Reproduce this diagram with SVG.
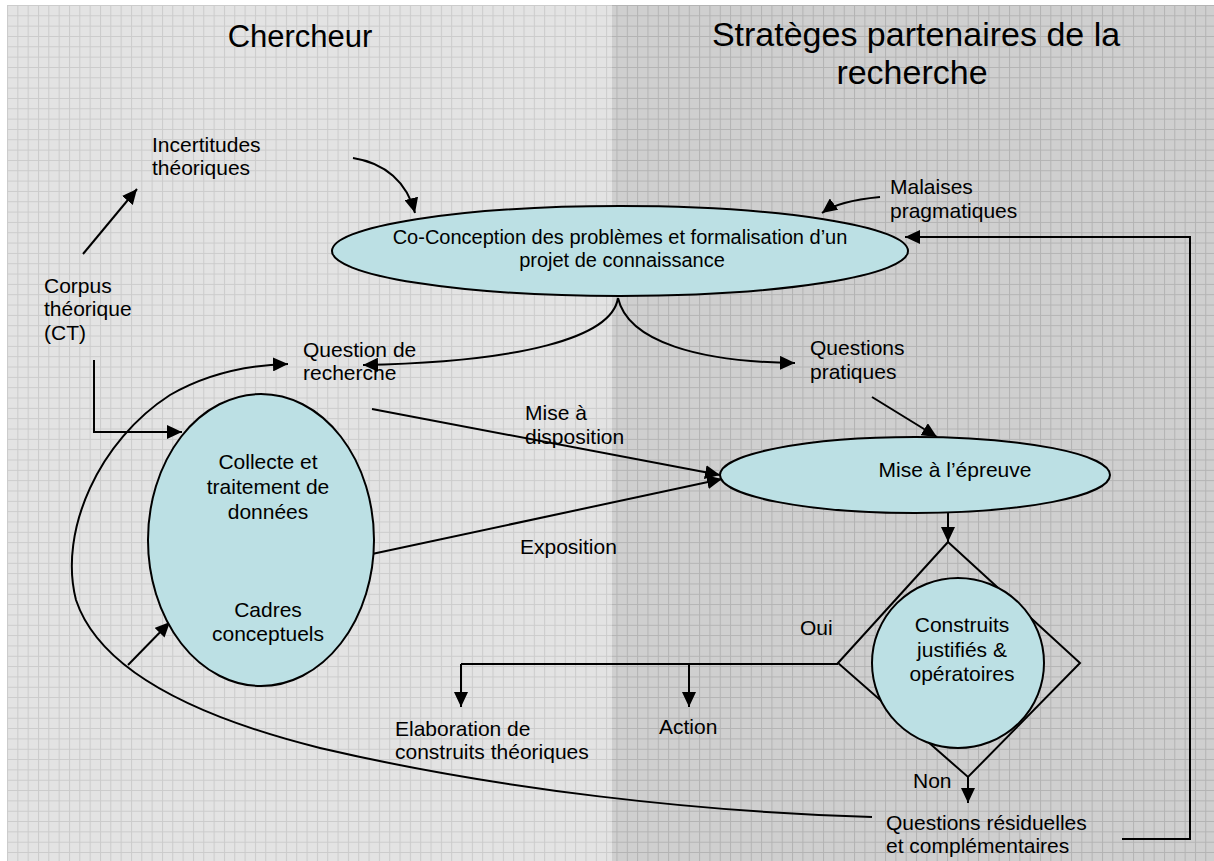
<svg xmlns="http://www.w3.org/2000/svg" width="1214" height="861" viewBox="0 0 1214 861">
<defs>
<pattern id="gridL" x="7" y="5" width="10.33" height="10.33" patternUnits="userSpaceOnUse">
<rect width="10.33" height="10.33" fill="#e3e3e3"/>
<path d="M0,0.5 H10.33 M0.5,0 V10.33" stroke="#cbcbcb" stroke-width="1" fill="none"/>
</pattern>
<pattern id="gridR" x="7" y="5" width="10.33" height="10.33" patternUnits="userSpaceOnUse">
<rect width="10.33" height="10.33" fill="#cfcfcf"/>
<path d="M0,0.5 H10.33 M0.5,0 V10.33" stroke="#b3b3b3" stroke-width="1" fill="none"/>
</pattern>
<marker id="ah" markerUnits="userSpaceOnUse" markerWidth="16" markerHeight="14" refX="15" refY="7" orient="auto">
<path d="M0,0 L15,7 L0,14 z" fill="#000"/>
</marker>
<style>
text{font-family:"Liberation Sans",Arial,sans-serif;fill:#000;font-size:21px}
.title{font-size:31px}
.titleR{font-size:34px}
.mid{text-anchor:middle}
.small{font-size:20px}
.node{fill:#bce0e4;stroke:#000;stroke-width:2}
.ln{fill:none;stroke:#000;stroke-width:2}
.arr{fill:none;stroke:#000;stroke-width:2;marker-end:url(#ah)}
</style>
</defs>
<rect x="0" y="0" width="1214" height="861" fill="#fff"/>
<rect x="7" y="5" width="605" height="856" fill="url(#gridL)"/>
<rect x="612" y="5" width="602" height="856" fill="url(#gridR)"/>

<g id="titles">
<text class="title mid" x="300" y="47">Chercheur</text>
<text class="titleR mid" x="916" y="46">Stratèges partenaires de la</text>
<text class="titleR mid" x="912" y="84">recherche</text>
</g>

<g id="connectors">
<path class="arr" d="M83,254 L137,189"/>
<path class="arr" d="M353,158 C385,163 407,182 415,213"/>
<path class="arr" d="M880,197 Q838,201 822,213"/>
<path class="arr" d="M94,360 V432 H182"/>
<path class="arr" d="M618,298 C612,338 520,362 363,365"/>
<path class="arr" d="M618,298 C628,342 700,362 795,363"/>
<path class="arr" d="M872,397 L937,437"/>
<path class="arr" d="M372,409 L720,475"/>
<path class="arr" d="M372,554 L722,479"/>
<path class="arr" d="M268,533 V578"/>
<path class="arr" d="M128,665 L170,622"/>
<path class="arr" d="M948,512 V542"/>
<path class="ln" d="M838,664 H461"/>
<path class="arr" d="M461,664 V707"/>
<path class="arr" d="M689,664 V707"/>
<path class="arr" d="M968,777 V803"/>
<path class="arr" d="M1122,839 H1190 V237 H905"/>
<path class="arr" d="M872,817 C700,812 500,790 320,748 C200,718 100,672 76,600 C58,530 100,440 170,395 C210,372 250,365 288,364"/>
</g>

<g id="co-conception">
<ellipse class="node" cx="620" cy="251" rx="288" ry="45"/>
<text class="mid small" x="620" y="244">Co-Conception des problèmes et formalisation d’un</text>
<text class="mid small" x="622" y="267">projet de connaissance</text>
</g>

<g id="collecte">
<ellipse class="node" cx="261" cy="540" rx="113" ry="146"/>
<text class="mid" x="268" y="469">Collecte et</text>
<text class="mid" x="268" y="494">traitement de</text>
<text class="mid" x="268" y="519">données</text>
<text class="mid" x="268" y="617">Cadres</text>
<text class="mid" x="268" y="641">conceptuels</text>
</g>

<g id="mise-epreuve">
<ellipse class="node" cx="915" cy="475" rx="195" ry="38"/>
<text class="mid" x="955" y="477">Mise à l’épreuve</text>
</g>

<g id="decision">
<path class="ln" d="M948,542 L1080,663 L968,777 L838,663 Z"/>
<ellipse class="node" cx="958" cy="663" rx="86" ry="85"/>
<text class="mid" x="962" y="632">Construits</text>
<text class="mid" x="962" y="657">justifiés &amp;</text>
<text class="mid" x="962" y="681">opératoires</text>
</g>

<g id="labels">
<text x="152" y="152">Incertitudes</text>
<text x="152" y="175">théoriques</text>
<text x="890" y="194">Malaises</text>
<text x="890" y="218">pragmatiques</text>
<text x="44" y="293">Corpus</text>
<text x="44" y="316">théorique</text>
<text x="44" y="340">(CT)</text>
<text x="303" y="357">Question de</text>
<text x="303" y="380">recherche</text>
<text x="810" y="355">Questions</text>
<text x="810" y="379">pratiques</text>
<text x="525" y="420">Mise à</text>
<text x="525" y="444">disposition</text>
<text x="520" y="554">Exposition</text>
<text x="800" y="635">Oui</text>
<text x="395" y="736">Elaboration de</text>
<text x="395" y="759">construits théoriques</text>
<text x="659" y="734">Action</text>
<text x="913" y="788">Non</text>
<text x="886" y="830">Questions résiduelles</text>
<text x="886" y="853">et complémentaires</text>
</g>
</svg>
